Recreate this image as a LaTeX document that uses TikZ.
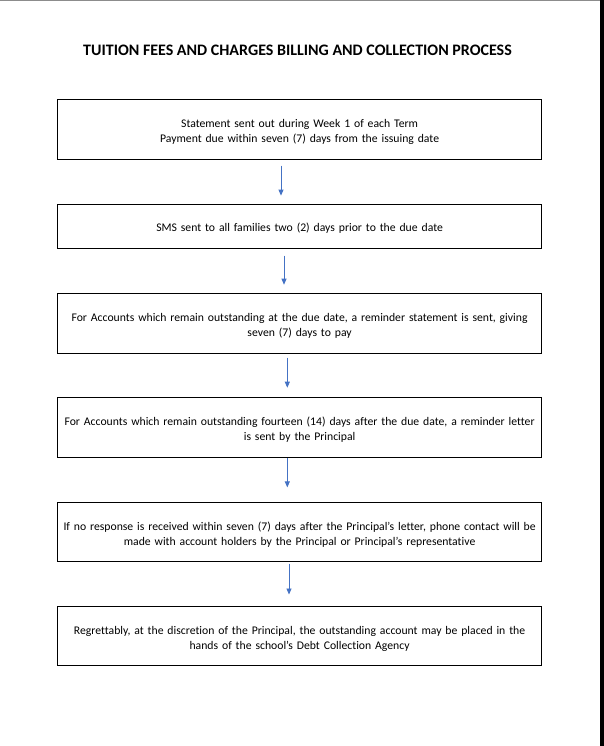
\documentclass[tikz,border=0pt]{standalone}
\usepackage{fontspec}
\setmainfont{Carlito}[Ligatures=NoCommon]
\usetikzlibrary{arrows.meta}
\definecolor{arrblue}{HTML}{4472C4}
\begin{document}
\begin{tikzpicture}[x=1bp,y=-1bp,
  stepbox/.style={draw=black,line width=1.2bp,minimum width=484bp,text width=480bp,align=center,inner sep=0pt,font=\fontsize{11.7bp}{15bp}\selectfont,execute at begin node={\rule{0pt}{12.8bp}}},
  arr/.style={draw=arrblue,line width=0.8bp,-{Triangle[length=6bp,width=5bp]}}]
\useasboundingbox (0,0) rectangle (604,746);
\fill[white] (0,0) rectangle (604,746);
\fill[gray!90] (0,0) rectangle (600,1.2);
\fill[black] (600,0) rectangle (604,746);
\node[font=\bfseries\fontsize{16bp}{18bp}\selectfont] (title) at (297.5,50.5) {TUITION FEES AND CHARGES BILLING AND COLLECTION PROCESS};
\node[stepbox,minimum height=60bp] (b1) at (299.6,129.3) {Statement sent out during Week 1 of each Term\\Payment due within seven (7) days from the issuing date};
\node[stepbox,minimum height=44bp] (b2) at (299.6,226.2) {SMS sent to all families two (2) days prior to the due date};
\node[stepbox,minimum height=60bp] (b3) at (299.6,323.3) {For Accounts which remain outstanding at the due date, a reminder statement is sent, giving\\seven (7) days to pay};
\node[stepbox,minimum height=60bp] (b4) at (299.6,427.3) {For Accounts which remain outstanding fourteen (14) days after the due date, a reminder letter\\is sent by the Principal};
\node[stepbox,minimum height=59bp] (b5) at (299.6,532.2) {If no response is received within seven (7) days after the Principal’s letter, phone contact will be\\made with account holders by the Principal or Principal’s representative};
\node[stepbox,minimum height=59bp] (b6) at (299.6,636.3) {Regrettably, at the discretion of the Principal, the outstanding account may be placed in the\\hands of the school’s Debt Collection Agency};
\draw[arr] ([xshift=-18.6bp,yshift=-5.7bp]b1.south) -- ([xshift=-18.6bp,yshift=8bp]b2.north);
\draw[arr] ([xshift=-15.6bp,yshift=-6.7bp]b2.south) -- ([xshift=-15.6bp,yshift=8bp]b3.north);
\draw[arr] ([xshift=-12.3bp,yshift=-3.7bp]b3.south) -- ([xshift=-12.3bp,yshift=9bp]b4.north);
\draw[arr] ([xshift=-12.3bp,yshift=0bp]b4.south) -- ([xshift=-12.3bp,yshift=14.7bp]b5.north);
\draw[arr] ([xshift=-10.6bp,yshift=-1.3bp]b5.south) -- ([xshift=-10.6bp,yshift=11.7bp]b6.north);
\end{tikzpicture}
\end{document}
